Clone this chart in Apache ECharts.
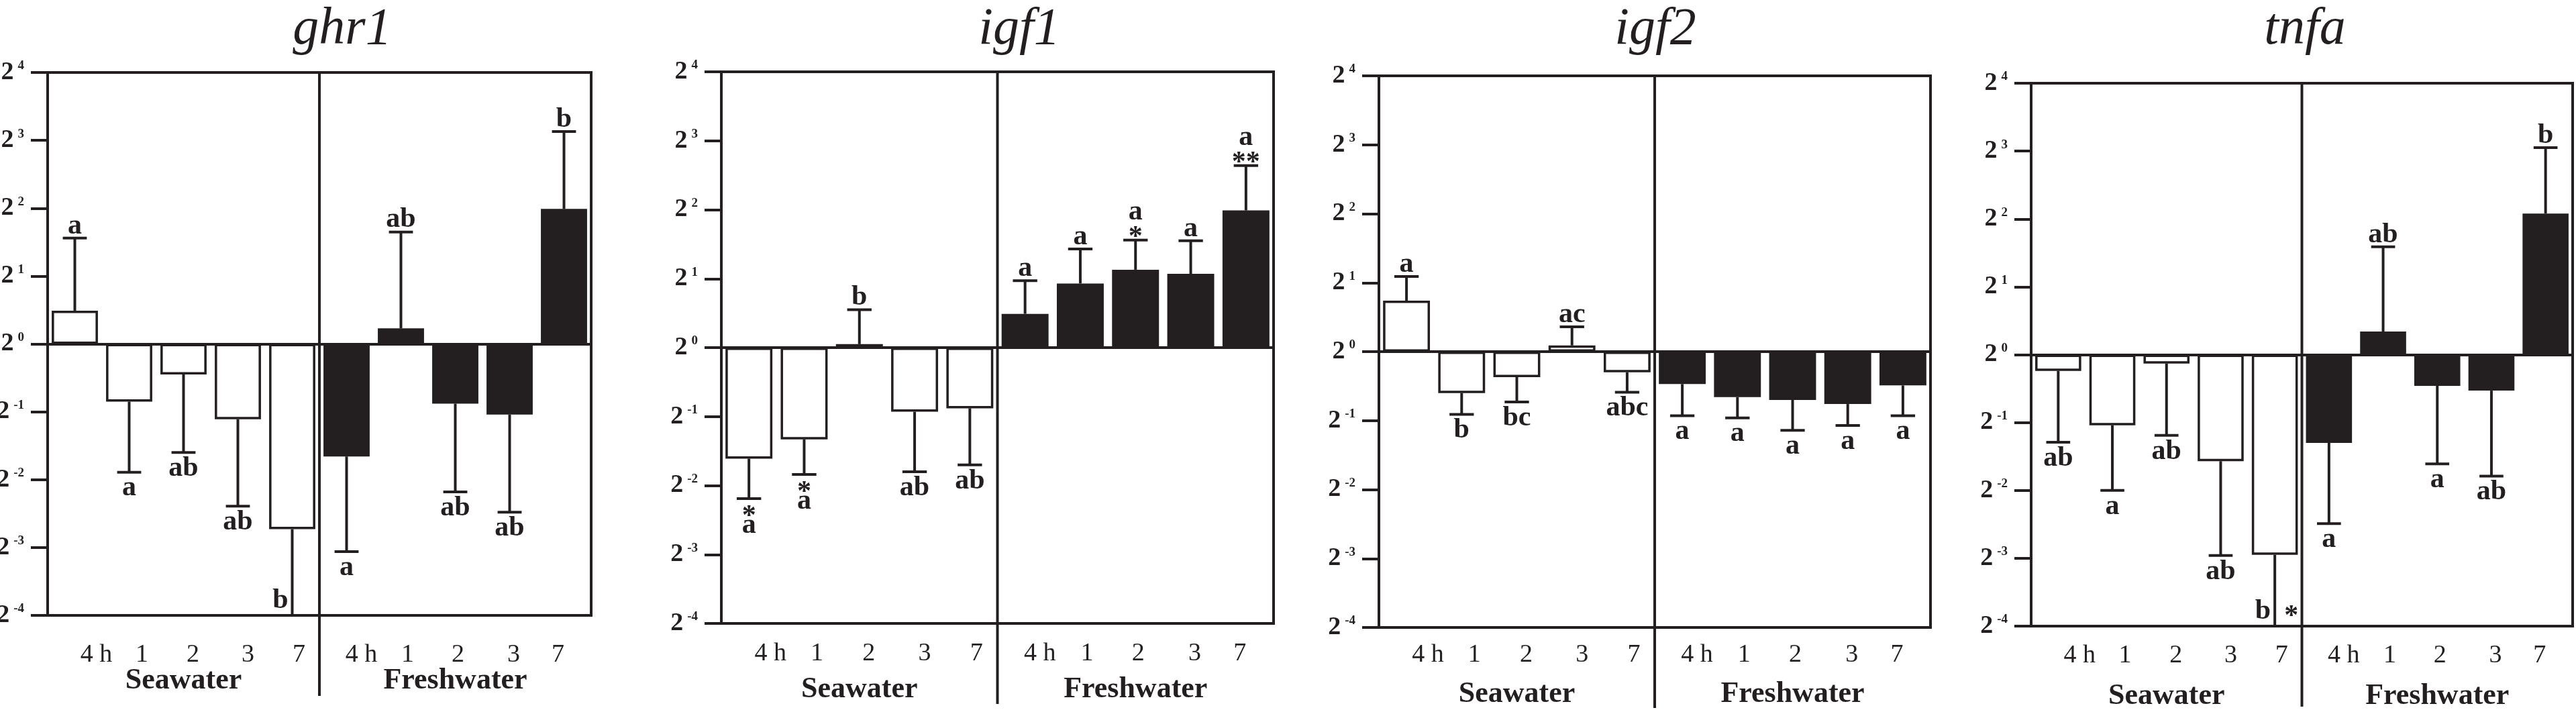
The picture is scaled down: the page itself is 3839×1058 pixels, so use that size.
<!DOCTYPE html>
<html>
<head>
<meta charset="utf-8">
<script src="https://cdn.jsdelivr.net/npm/echarts@6/dist/echarts.min.js"></script>
<style>
  html, body { margin: 0; padding: 0; background: #fff; }
  #main { width: 3839px; height: 1058px; }
</style>
</head>
<body>
<div id="main"></div>
<script>
// values are log2 fold change (exponent of 2)
var genes = ['ghr1', 'igf1', 'igf2', 'tnfa'];
var groups = ['Seawater', 'Freshwater'];
var timePoints = ['4 h', '1', '2', '3', '7', '4 h', '1', '2', '3', '7'];
var yTicks = [-4, -3, -2, -1, 0, 1, 2, 3, 4];

var ghr1Mean = [0.49, -0.85, -0.45, -1.11, -2.73, -1.66, 0.23, -0.88, -1.04, 1.99];
var ghr1Err = [1.56, -1.89, -1.60, -2.39, -4.00, -3.06, 1.65, -2.18, -2.48, 3.13];
var ghr1Letters = ['a', 'a', 'ab', 'ab', 'b', 'a', 'ab', 'ab', 'ab', 'b'];
var ghr1Stars = ['', '', '', '', '', '', '', '', '', ''];

var igf1Mean = [-1.61, -1.33, 0.05, -0.93, -0.88, 0.49, 0.93, 1.13, 1.07, 1.99];
var igf1Err = [-2.19, -1.84, 0.55, -1.80, -1.70, 0.97, 1.43, 1.56, 1.55, 2.64];
var igf1Letters = ['a', 'a', 'b', 'ab', 'ab', 'a', 'a', 'a', 'a', 'a'];
var igf1Stars = ['*', '*', '', '', '', '', '', '*', '', '**'];

var igf2Mean = [0.74, -0.60, -0.37, 0.09, -0.30, -0.47, -0.66, -0.70, -0.76, -0.49];
var igf2Err = [1.09, -0.91, -0.73, 0.36, -0.59, -0.93, -0.96, -1.14, -1.07, -0.93];
var igf2Letters = ['a', 'b', 'bc', 'ac', 'abc', 'a', 'a', 'a', 'a', 'a'];
var igf2Stars = ['', '', '', '', '', '', '', '', '', ''];

var tnfaMean = [-0.24, -1.04, -0.13, -1.57, -2.95, -1.30, 0.34, -0.46, -0.53, 2.08];
var tnfaErr = [-1.29, -2.00, -1.19, -2.96, -4.00, -2.49, 1.59, -1.61, -1.79, 3.05];
var tnfaLetters = ['ab', 'a', 'ab', 'ab', 'b', 'a', 'ab', 'a', 'ab', 'b'];
var tnfaStars = ['', '', '', '', '*', '', '', '', '', ''];

var panels = [
    {mean: ghr1Mean, err: ghr1Err, letters: ghr1Letters, stars: ghr1Stars},
    {mean: igf1Mean, err: igf1Err, letters: igf1Letters, stars: igf1Stars},
    {mean: igf2Mean, err: igf2Err, letters: igf2Letters, stars: igf2Stars},
    {mean: tnfaMean, err: tnfaErr, letters: tnfaLetters, stars: tnfaStars}
];

var INK = '#231f20';
var SERIF = "'Liberation Serif', 'DejaVu Serif', serif";

// grid boxes, title centres and label spacing of the four panels
var boxes = [
    {left: 71, top: 108, width: 810, height: 809, title: 505, catMargin: 39, groupLH: 38},
    {left: 1075, top: 107, width: 823, height: 822, title: 1514, catMargin: 25, groupLH: 68},
    {left: 2055, top: 113, width: 822, height: 822, title: 2462, catMargin: 21, groupLH: 78},
    {left: 3027, top: 124, width: 807, height: 809, title: 3430, catMargin: 24, groupLH: 82}
];
// tick labels sit a little right of the bars in the original
var labelNudge = [32, 19, 14, 15, 10, 22, 10, 4, 6, -9];

var chart = echarts.init(document.getElementById('main'));

function txt(str, x, baseline, align) {
    return {
        type: 'text',
        style: {
            text: str, x: x, y: baseline + 9,
            align: align, verticalAlign: 'bottom',
            fontFamily: SERIF, fontWeight: 'bold', fontSize: 42, fill: INK
        }
    };
}

function errorRenderer(p) {
    return function (params, api) {
        var i = api.value(0), m = api.value(1), e = api.value(2);
        var p0 = api.coord([i, m]);
        var p1 = api.coord([i, e]);
        var half = api.size([1, 0])[0] * 0.85 * 0.26;
        var cs = params.coordSys;
        var bottom = cs.y + cs.height;
        var letter = p.letters[params.dataIndex];
        var star = p.stars[params.dataIndex];
        var kids = [{
            type: 'line',
            shape: {x1: p0[0], y1: p0[1], x2: p1[0], y2: p1[1]},
            style: {stroke: INK, lineWidth: 4}
        }];
        if (e <= -4) {
            // bar runs off the bottom of the axis: letter beside the line
            kids.push(txt(letter, p1[0] - 6, bottom - 10, 'right'));
            if (star) kids.push(txt(star, p1[0] + 14, bottom - 2, 'left'));
        } else {
            kids.push({
                type: 'line',
                shape: {x1: p1[0] - half, y1: p1[1], x2: p1[0] + half, y2: p1[1]},
                style: {stroke: INK, lineWidth: 4}
            });
            if (e >= m) {
                if (star) {
                    kids.push(txt(star, p1[0], p1[1] + 8, 'center'));
                    kids.push(txt(letter, p1[0], p1[1] - 30, 'center'));
                } else {
                    kids.push(txt(letter, p1[0], p1[1] - 6, 'center'));
                }
            } else {
                if (star) {
                    kids.push(txt(star, p1[0], p1[1] + 39, 'center'));
                    kids.push(txt(letter, p1[0], p1[1] + 52, 'center'));
                } else {
                    kids.push(txt(letter, p1[0], p1[1] + 36, 'center'));
                }
            }
        }
        return {type: 'group', children: kids};
    };
}

function dividerRenderer(params, api) {
    var a = api.coord([4, 0]), b = api.coord([5, 0]);
    var x = (a[0] + b[0]) / 2;
    var cs = params.coordSys;
    return {
        type: 'line',
        shape: {x1: x, y1: cs.y, x2: x, y2: cs.y + cs.height + 120},
        style: {stroke: INK, lineWidth: 4}
    };
}

var grids = [], xAxes = [], yAxes = [], series = [], titles = [];

boxes.forEach(function (b, k) {
    grids.push({
        left: b.left, top: b.top, width: b.width, height: b.height,
        containLabel: false, outerBoundsMode: 'none',
        show: true, borderColor: INK, borderWidth: 4, backgroundColor: 'transparent'
    });

    var rich = {
        g: {fontFamily: SERIF, fontWeight: 'bold', fontSize: 44, color: INK, lineHeight: b.groupLH}
    };
    labelNudge.forEach(function (n, j) {
        rich['s' + j] = {
            fontFamily: SERIF, fontSize: 38, color: INK, lineHeight: 40,
            padding: n >= 0 ? [0, 0, 0, 2 * n] : [0, -2 * n, 0, 0]
        };
    });

    xAxes.push({
        type: 'category', gridIndex: k, data: timePoints, position: 'bottom',
        axisLine: {show: true, onZero: false, lineStyle: {color: INK, width: 4}},
        axisTick: {show: false},
        splitLine: {show: false},
        axisLabel: {
            interval: 0, margin: b.catMargin, color: INK,
            formatter: function (v, j) {
                var s = '{s' + j + '|' + v + '}';
                if (j === 2) s += '\n{g|' + groups[0] + '}';
                if (j === 7) s += '\n{g|' + groups[1] + '}';
                return s;
            },
            rich: rich
        }
    });

    yAxes.push({
        type: 'value', gridIndex: k, min: yTicks[0], max: yTicks[yTicks.length - 1], interval: 1,
        axisLine: {show: true, onZero: false, lineStyle: {color: INK, width: 4}},
        axisTick: {show: true, inside: false, length: 25, lineStyle: {color: INK, width: 4}},
        splitLine: {show: false},
        axisLabel: {
            margin: 35,
            formatter: function (v) {
                return '{b|2}{e|' + (v < 0 ? '-' + (-v) : v) + '}';
            },
            rich: {
                b: {fontFamily: SERIF, fontWeight: 'bold', fontSize: 38, color: INK},
                e: {fontFamily: SERIF, fontWeight: 'bold', fontSize: 19, color: INK, verticalAlign: 'top', padding: [0, 0, 0, 6]}
            }
        }
    });

    var p = panels[k];
    series.push({
        type: 'bar', xAxisIndex: k, yAxisIndex: k,
        barCategoryGap: '15%',
        data: p.mean.map(function (v, j) {
            return {
                value: [j, v],
                itemStyle: j < 5
                    ? {color: '#fff', borderColor: INK, borderWidth: 3.5}
                    : {color: INK, borderColor: INK, borderWidth: 3.5}
            };
        }),
        markLine: {
            silent: true, symbol: 'none', label: {show: false},
            lineStyle: {color: INK, width: 4, type: 'solid'},
            data: [{yAxis: 0}]
        },
        z: 2
    });
    series.push({
        type: 'custom', xAxisIndex: k, yAxisIndex: k,
        renderItem: errorRenderer(p),
        data: p.mean.map(function (v, j) { return [j, v, p.err[j]]; }),
        z: 3
    });
    series.push({
        type: 'custom', xAxisIndex: k, yAxisIndex: k,
        renderItem: dividerRenderer,
        data: [[0, 0]],
        z: 4
    });

    titles.push({
        text: genes[k], left: b.title, top: 0, textAlign: 'center',
        textStyle: {fontFamily: SERIF, fontStyle: 'italic', fontWeight: 'normal', fontSize: 78, color: INK}
    });
});

chart.setOption({
    animation: false,
    backgroundColor: '#fff',
    title: titles,
    grid: grids,
    xAxis: xAxes,
    yAxis: yAxes,
    series: series
});
</script>
</body>
</html>
